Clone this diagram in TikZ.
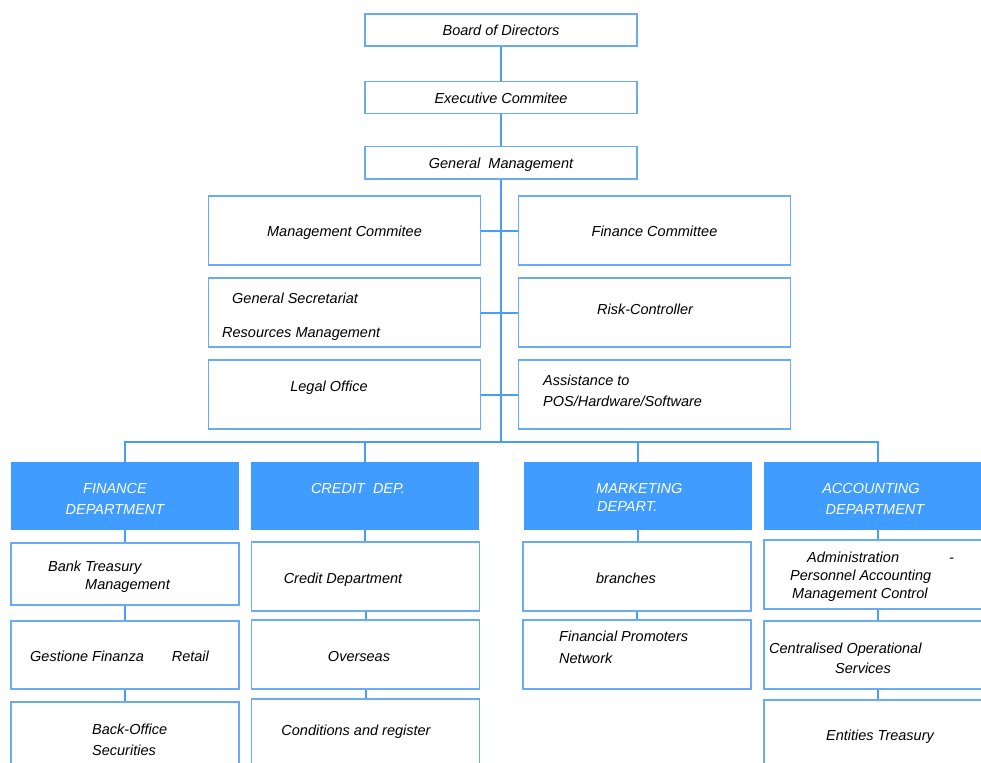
\documentclass[tikz,border=0pt]{standalone}
\usepackage{fontspec}
\setmainfont{Liberation Sans}
\usetikzlibrary{positioning}
\definecolor{headblue}{RGB}{64,156,255}
\definecolor{lineblue}{RGB}{72,156,250}
\definecolor{edgeblue}{RGB}{105,172,245}
\tikzset{
  box/.style={draw=edgeblue, line width=1.4pt, fill=white, minimum width=272pt, minimum height=69pt, inner sep=0pt, text height=12pt, text depth=0pt, font=\itshape\fontsize{14.5}{17}\selectfont},
  topbox/.style={box, minimum height=32pt},
  subbox/.style={box, minimum width=228pt},
  headbox/.style={fill=headblue, minimum width=228pt, minimum height=68pt, inner sep=0pt},
  lbl/.style={font=\itshape\fontsize{14.5}{17}\selectfont, inner sep=0pt, anchor=mid west, yshift=-2pt},
  clbl/.style={lbl, anchor=mid},
  headlbl/.style={lbl, white},
  cheadlbl/.style={clbl, white},
  link/.style={draw=lineblue, line width=2pt}
}
\begin{document}
\begin{tikzpicture}[x=1pt,y=-1pt]
\useasboundingbox (0,0) rectangle (981,762);
\clip (0,0) rectangle (981,762);

% top of the chart
\node[topbox] (board) at (501,30) {Board of Directors};
\node[topbox, below=34pt of board] (exec) {Executive Commitee};
\node[topbox, below=32pt of exec] (genman) {General\ \ Management};

% staff boxes
\node[box] (mancom) at (344.5,230.5) {Management Commitee};
\node[box] (fincom) at (654.5,230.5) {Finance Committee};
\node[box] (gensec) at (344.5,312.5) {};
\node[box] (risk) at (654.5,312.5) {};
\node[box] (legal) at (344.5,394.5) {};
\node[box] (assist) at (654.5,394.5) {};
\node[lbl] (gensec-a) at (232,299) {General Secretariat};
\node[lbl] (gensec-b) at (222,333) {Resources Management};
\node[clbl] (risk-t) at (645,310) {Risk-Controller};
\node[clbl] (legal-t) at (329,387) {Legal Office};
\node[lbl] (assist-a) at (543,381) {Assistance to};
\node[lbl] (assist-b) at (543,402) {POS/Hardware/Software};

% departments
\node[headbox] (finance) at (124.5,496) {};
\node[headbox] (credit) at (365,496) {};
\node[headbox] (marketing) at (637.5,496) {};
\node[headbox] (accounting) at (878,496) {};
\node[cheadlbl] (finance-a) at (115,489) {FINANCE};
\node[cheadlbl] (finance-b) at (115,510) {DEPARTMENT};
\node[cheadlbl] (credit-t) at (358,489) {CREDIT\ \ DEP.};
\node[headlbl] (marketing-a) at (596,489) {MARKETING};
\node[headlbl] (marketing-b) at (597,507) {DEPART.};
\node[cheadlbl] (accounting-a) at (871,489) {ACCOUNTING};
\node[cheadlbl] (accounting-b) at (875,510) {DEPARTMENT};

% finance column
\node[subbox, minimum height=62pt] (bank) at (125,574) {};
\node[subbox, minimum height=68pt] (gestione) at (125,655) {};
\node[subbox, minimum height=68pt] (backoff) at (125,736) {};
\node[lbl] (bank-a) at (48,567) {Bank Treasury};
\node[lbl] (bank-b) at (85,585) {Management};
\node[lbl] (gestione-t) at (30,657) {Gestione Finanza\hspace{28pt}Retail};
\node[lbl] (backoff-a) at (92,730) {Back-Office};
\node[lbl] (backoff-b) at (92,751) {Securities};

% credit column
\node[subbox] (creditdep) at (365.5,576.5) {};
\node[subbox] (overseas) at (365.5,654.5) {};
\node[subbox] (conditions) at (365.5,733.5) {};
\node[clbl] (creditdep-t) at (343,579) {Credit Department};
\node[clbl] (overseas-t) at (359,657) {Overseas};
\node[clbl] (conditions-t) at (356,731) {Conditions and register};

% marketing column
\node[subbox] (branches) at (637,576.5) {};
\node[subbox] (promoters) at (637,654.5) {};
\node[clbl] (branches-t) at (626,579) {branches};
\node[lbl] (promoters-a) at (559,637) {Financial Promoters};
\node[lbl] (promoters-b) at (559,659) {Network};

% accounting column
\node[subbox] (admin) at (878,574.5) {};
\node[subbox, minimum height=68pt] (centr) at (878,655) {};
\node[subbox] (entities) at (878,734.5) {};
\node[lbl] (admin-a) at (807,558) {Administration};
\node[lbl] (admin-c) at (949,558) {-};
\node[lbl] (admin-b) at (790,576) {Personnel Accounting};
\node[lbl] (admin-d) at (792,594) {Management Control};
\node[lbl] (centr-a) at (769,649) {Centralised Operational};
\node[lbl] (centr-b) at (835,669) {Services};
\node[clbl] (entities-t) at (880,736) {Entities Treasury};

% connectors
\coordinate (bus) at (501,442);
\draw[link] (board) -- (exec);
\draw[link] (exec) -- (genman);
\draw[link] (genman.south) -- (bus);
\draw[link] (mancom.east) -- (fincom.west);
\draw[link] (gensec.east) -- (risk.west);
\draw[link] (legal.east) -- (assist.west);
\draw[link] (finance.north) |- (bus) -| (accounting.north);
\draw[link] (credit.north) -- (credit.north |- bus);
\draw[link] (marketing.north) -- (marketing.north |- bus);
\draw[link] (finance.south) -- (finance.south |- bank.north);
\draw[link] (bank.south) -- (gestione.north);
\draw[link] (gestione.south) -- (backoff.north);
\draw[link] (credit.south) -- (credit.south |- creditdep.north);
\draw[link] (creditdep.south) -- (overseas.north);
\draw[link] (overseas.south) -- (conditions.north);
\draw[link] (marketing.south) -- (marketing.south |- branches.north);
\draw[link] (branches.south) -- (promoters.north);
\draw[link] (accounting.south) -- (admin.north);
\draw[link] (admin.south) -- (centr.north);
\draw[link] (centr.south) -- (entities.north);
\end{tikzpicture}
\end{document}
